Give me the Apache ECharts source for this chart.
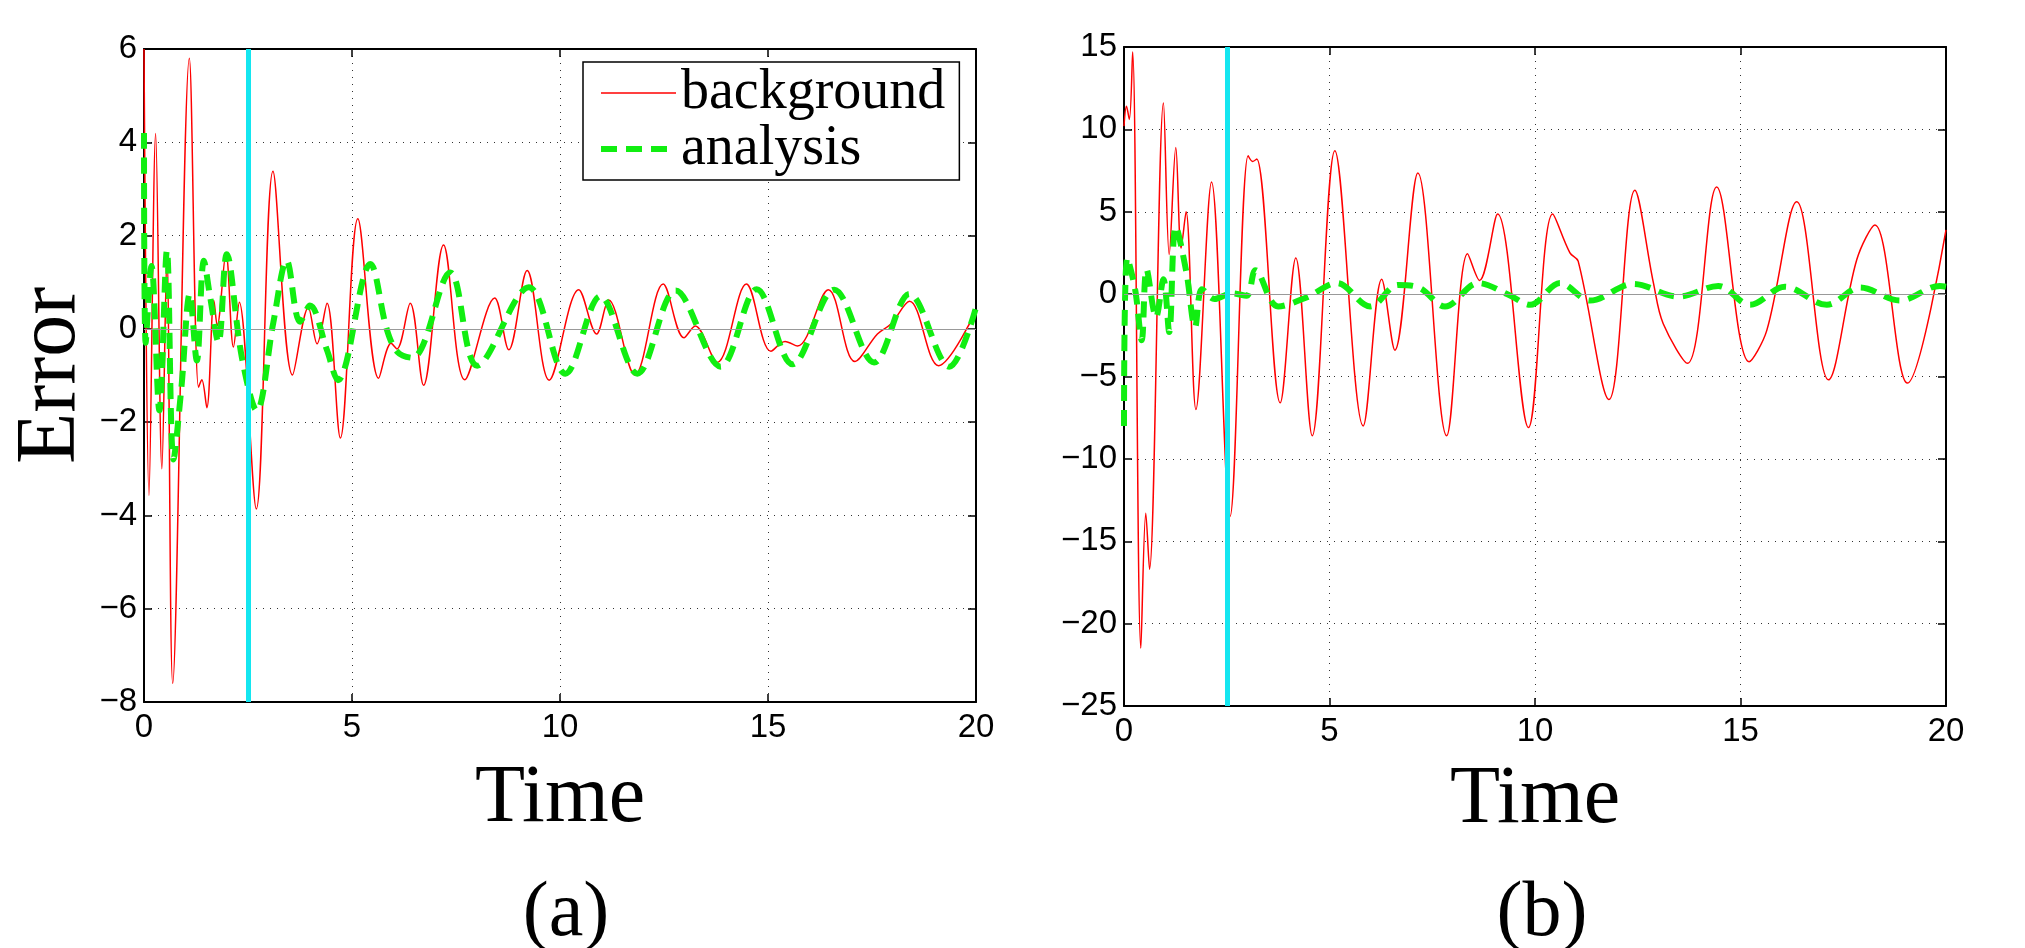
<!DOCTYPE html>
<html>
<head>
<meta charset="UTF-8">
<title>Error</title>
<style>
  * { margin: 0; padding: 0; }
  body { background: #fff; }
  #main { width: 2025px; height: 948px; }
</style>
<script src="https://cdn.jsdelivr.net/npm/echarts@6/dist/echarts.min.js"></script>
</head>
<body>
<div id="main"></div>
<script>
// panel (a): [time, error]
var bgA = [[0, 6.0], [0.12, -3.57], [0.28, 4.19], [0.43, -3.0], [0.55, 1.6], [0.69, -7.6], [1.09, 5.8],
  [1.31, -1.25], [1.39, -1.09], [1.51, -1.69], [1.68, 0.61], [1.76, 0.07], [1.97, 1.62], [2.15, -0.39],
  [2.29, 0.57], [2.70, -3.86], [3.10, 3.38], [3.57, -0.99], [3.95, 0.46], [4.16, -0.32], [4.40, 0.55],
  [4.72, -2.34], [5.14, 2.36], [5.64, -1.06], [5.94, -0.31], [6.08, -0.43], [6.40, 0.55], [6.72, -1.21],
  [7.20, 1.80], [7.71, -1.09], [8.43, 0.66], [8.77, -0.45], [9.21, 1.25], [9.74, -1.10], [10.45, 0.84],
  [10.88, -0.11], [11.17, 0.62], [11.80, -0.99], [12.48, 0.96], [12.98, -0.19], [13.25, 0.06],
  [13.78, -0.72], [14.48, 0.96], [15.07, -0.48], [15.41, -0.27], [15.71, -0.37], [16.45, 0.84],
  [17.09, -0.70], [17.63, -0.11], [17.96, 0.11], [18.40, 0.59], [19.10, -0.79], [20, 0.39]];
var anA = [[0, 4.2], [0.04, -0.3], [0.18, 1.35], [0.37, -1.75], [0.55, 1.68], [0.71, -2.8], [0.9, -1.25],
  [1.1, 0.75], [1.27, -0.68], [1.44, 1.46], [1.59, 0.68], [1.79, -0.29], [1.99, 1.6], [2.35, -0.6],
  [2.71, -1.75], [3.11, 0.14], [3.43, 1.46], [3.75, 0.15], [3.99, 0.5], [4.4, -0.46], [4.66, -1.1],
  [5.44, 1.39], [5.84, -0.02], [6.1, -0.5], [6.45, -0.62], [7.36, 1.21], [8.01, -0.79], [9.25, 0.89],
  [10.13, -0.96], [10.97, 0.7], [11.86, -0.96], [12.78, 0.82], [13.86, -0.81], [14.73, 0.85],
  [15.59, -0.76], [16.59, 0.84], [17.55, -0.72], [18.4, 0.75], [19.36, -0.81], [20, 0.46]];

// panel (b)
var bgB = [[0, 10.2], [0.06, 11.4], [0.13, 10.6], [0.21, 14.7], [0.41, -21.5], [0.53, -13.3], [0.62, -16.7],
  [0.96, 11.6], [1.10, 2.4], [1.26, 8.9], [1.39, 2.8], [1.51, 5.0], [1.75, -7.0], [2.13, 6.8], [2.58, -13.5],
  [3.02, 8.4], [3.13, 8.05], [3.23, 8.2], [3.80, -6.6], [4.18, 2.2], [4.58, -8.6], [5.13, 8.7], [5.82, -8.0],
  [6.27, 0.9], [6.59, -3.4], [7.15, 7.35], [7.85, -8.6], [8.36, 2.45], [8.65, 0.83], [9.09, 4.86],
  [9.84, -8.1], [10.43, 4.86], [10.85, 2.5], [11.05, 2.0], [11.80, -6.4], [12.43, 6.3], [12.88, 0.7],
  [13.12, -1.8], [13.71, -4.2], [14.42, 6.5], [15.21, -4.1], [15.64, -2.2], [16.37, 5.6], [17.14, -5.2],
  [17.83, 2.1], [18.27, 4.2], [19.06, -5.4], [20, 3.9]];
var anB = [[0, -8], [0.08, 2.2], [0.27, 0.3], [0.43, -2.8], [0.55, 1.5], [0.78, -1.4], [0.96, 0.9],
  [1.10, -2.3], [1.26, 4.1], [1.52, 1.3], [1.73, -2.0], [1.9, 0.3], [2.2, -0.3], [2.62, 0.05], [2.98, -0.1],
  [3.2, 1.45], [3.75, -0.75], [4.44, -0.2], [5.18, 0.67], [5.99, -0.75], [6.67, 0.56], [7.2, 0.37],
  [7.81, -0.75], [8.62, 0.67], [9.39, -0.08], [9.88, -0.65], [10.61, 0.67], [11.34, -0.39], [12.39, 0.62],
  [13.5, -0.15], [14.46, 0.5], [15.23, -0.65], [16.08, 0.45], [17.1, -0.65], [17.91, 0.4], [18.88, -0.39],
  [19.85, 0.5], [20, 0.45]];

var assimTime = 2.5;          // cyan marker
var timeRange = [0, 20, 5];   // min, max, step
var errRangeA = [-8, 6, 2];
var errRangeB = [-25, 15, 5];

var RED = '#ff0000', GREEN = '#11ee11', CYAN = '#14e6f0';
var SANS = 'Liberation Sans', SERIF = 'Liberation Serif';

function minus(v) { return String(v).replace('-', '\u2212'); }

function tickStyle() {
  return { inside: true, length: 8, lineStyle: { color: '#000', width: 1.5 } };
}
function lineStyle() {
  return { onZero: false, lineStyle: { color: '#000', width: 2 } };
}
function gridDots() {
  return { show: true, lineStyle: { color: '#333', width: 1, type: [1, 6] } };
}

function xAxes(gi, gap) {
  return [{
    gridIndex: gi, type: 'value', min: timeRange[0], max: timeRange[1], interval: timeRange[2],
    axisLine: lineStyle(), axisTick: tickStyle(), splitLine: gridDots(),
    axisLabel: { color: '#000', fontFamily: SANS, fontSize: 33, margin: 9, formatter: minus },
    name: 'Time', nameLocation: 'middle', nameGap: gap,
    nameTextStyle: { color: '#000', fontFamily: SERIF, fontSize: 82 }
  }, {
    gridIndex: gi, type: 'value', position: 'top', min: timeRange[0], max: timeRange[1], interval: timeRange[2],
    axisLine: lineStyle(), axisTick: tickStyle(), axisLabel: { show: false }, splitLine: { show: false }
  }];
}

function yAxes(gi, r, withName) {
  var main = {
    gridIndex: gi, type: 'value', min: r[0], max: r[1], interval: r[2],
    axisLine: lineStyle(), axisTick: tickStyle(), splitLine: gridDots(),
    axisLabel: { color: '#000', fontFamily: SANS, fontSize: 33, margin: 7, formatter: minus }
  };
  if (withName) {
    main.name = 'Error';
    main.nameLocation = 'middle';
    main.nameGap = 50;
    main.nameTextStyle = { color: '#000', fontFamily: SERIF, fontSize: 84 };
  }
  return [main, {
    gridIndex: gi, type: 'value', position: 'right', min: r[0], max: r[1], interval: r[2],
    axisLine: lineStyle(), axisTick: tickStyle(), axisLabel: { show: false }, splitLine: { show: false }
  }];
}

function panel(xi, yi, bg, an) {
  return [{
    name: 'background', type: 'line', xAxisIndex: xi, yAxisIndex: yi, data: bg,
    smooth: 0.35, symbol: 'none', lineStyle: { color: RED, width: 1.5 }, itemStyle: { color: RED },
    markLine: {
      silent: true, symbol: ['none', 'none'], label: { show: false },
      lineStyle: { color: '#999', width: 1, type: 'solid' }, data: [{ yAxis: 0 }]
    }
  }, {
    name: 'analysis', type: 'line', xAxisIndex: xi, yAxisIndex: yi, data: an,
    smooth: 0.35, symbol: 'none', lineStyle: { color: GREEN, width: 6, type: [16, 9] }, itemStyle: { color: GREEN },
    markLine: {
      silent: true, symbol: ['none', 'none'], label: { show: false },
      lineStyle: { color: CYAN, width: 5, type: 'solid' }, data: [{ xAxis: assimTime }]
    }
  }];
}

var chart = echarts.init(document.getElementById('main'));
chart.setOption({
  animation: false,
  backgroundColor: '#fff',
  grid: [
    { left: 144, top: 49, width: 832, height: 653 },
    { left: 1124, top: 47, width: 822, height: 659 }
  ],
  title: [
    { text: '(a)', left: 566, top: 876, textAlign: 'center', padding: 0,
      textStyle: { fontFamily: SERIF, fontWeight: 'normal', fontSize: 78, color: '#000' } },
    { text: '(b)', left: 1542, top: 876, textAlign: 'center', padding: 0,
      textStyle: { fontFamily: SERIF, fontWeight: 'normal', fontSize: 78, color: '#000' } }
  ],
  legend: {
    left: 583, top: 62, orient: 'vertical',
    data: [
      { name: 'background', lineStyle: { width: 1.5 } },
      { name: 'analysis', lineStyle: { width: 6 } }
    ],
    itemWidth: 75, itemHeight: 20, itemGap: 0,
    padding: [3, 14, 3, 15],
    backgroundColor: '#fff', borderColor: '#000', borderWidth: 1.5, borderRadius: 0,
    itemStyle: { opacity: 0 },
    textStyle: { fontFamily: SERIF, fontSize: 56, color: '#000' }
  },
  xAxis: xAxes(0, 56).concat(xAxes(1, 53)),
  yAxis: yAxes(0, errRangeA, true).concat(yAxes(1, errRangeB, false)),
  series: panel(0, 0, bgA, anA).concat(panel(2, 2, bgB, anB))
});
</script>
</body>
</html>
